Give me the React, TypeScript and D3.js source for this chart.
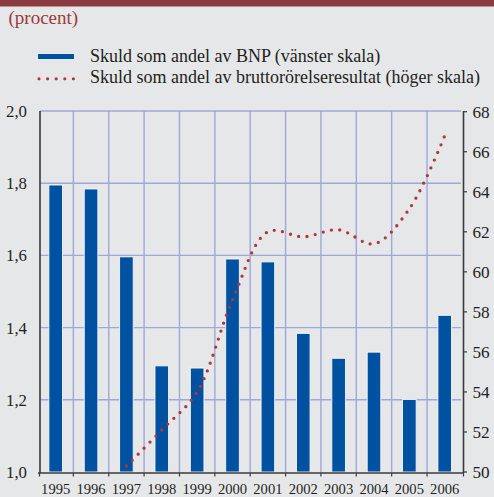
import React from 'react';
import * as d3 from 'd3';

const years = ['1995','1996','1997','1998','1999','2000','2001','2002','2003','2004','2005','2006'];
const debtToGdp = [1.795,1.784,1.596,1.294,1.288,1.590,1.582,1.384,1.315,1.332,1.201,1.434];
const lineYears = ['1997','1998','1999','2000','2001','2002','2003','2004','2005','2006'];
const debtToGos = [50.3,52.1,54.0,58.6,62.0,61.75,62.1,61.4,63.15,66.8];
const leftTicks = [1.0,1.2,1.4,1.6,1.8,2.0];
const rightTicks = [50,52,54,56,58,60,62,64,66,68];
const legendLabels = ['Skuld som andel av BNP (vänster skala)','Skuld som andel av bruttorörelseresultat (höger skala)'];
const unitLabel = '(procent)';

const W = 494, H = 497;
const FONT = 'Liberation Serif';
const BLUE = '#0051a0';
const RED = '#b0363a';
const GRID = '#9ea8d8';
const AXIS = '#3a3a3a';

export default function App() {
  const left = 38, right = 462.4, top = 111, bottom = 472;
  const x = d3.scaleBand<string>().domain(years).range([left, right]).padding(0);
  const step = x.step();
  const bw = 13.6;
  const yL = d3.scaleLinear().domain([1, 2]).range([bottom, top]);
  const yR = d3.scaleLinear().domain([50, 68]).range([bottom, top + 0.7]);
  const fmt = (v: number) => d3.format('.1f')(v).replace('.', ',');
  const line = d3.line<number>()
    .x((_, i) => (x(lineYears[i]) as number) + step / 2)
    .y(d => yR(d))
    .curve(d3.curveCatmullRom.alpha(0.5));
  const axL = 40, axR = 463.5;
  const ts = { fontFamily: FONT };

  return (
    <svg width={W} height={H} style={{ position: 'fixed', left: 0, top: 0, display: 'block' }}>
      <rect x={0} y={0} width={W} height={H} fill="#e6e7e9" />
      <rect x={0} y={0} width={W} height={6.5} fill="#8b3a3f" />
      <text x={8.5} y={24} fontSize={19} fill="#9a3b40" style={ts}>{unitLabel}</text>

      {/* legend */}
      <rect x={37.5} y={53.5} width={37} height={6} fill={BLUE} stroke="#ffffff" strokeWidth={0.8} />
      <text x={90} y={61.8} fontSize={18} fill="#231f20" style={ts}>{legendLabels[0]}</text>
      <line x1={39} x2={74} y1={78.8} y2={78.8} stroke={RED} strokeWidth={3.2} strokeLinecap="round" strokeDasharray="0 8.6" />
      <text x={90} y={82.8} fontSize={18} fill="#231f20" style={ts}>{legendLabels[1]}</text>

      {/* grid */}
      {leftTicks.filter(t => t > 1).map(t => (
        <line key={'h' + t} x1={axL} x2={461} y1={yL(t)} y2={yL(t)} stroke={GRID} strokeWidth={1.4} />
      ))}
      {years.slice(1).map(yr => (
        <line key={'v' + yr} x1={x(yr) as number} x2={x(yr) as number} y1={top} y2={bottom} stroke={GRID} strokeWidth={1.4} />
      ))}

      {/* bars */}
      {years.map((yr, i) => {
        const cx = (x(yr) as number) + step / 2;
        const y0 = yL(debtToGdp[i]);
        return (
          <rect key={'b' + yr} x={cx - bw / 2} y={y0} width={bw} height={bottom - y0}
            fill={BLUE} stroke="#f4f6fb" strokeWidth={0.9} />
        );
      })}

      {/* dotted line */}
      <path d={line(debtToGos) || ''} fill="none" stroke={RED} strokeWidth={3.3}
        strokeLinecap="round" strokeDasharray="0 8.4" />

      {/* axes */}
      <line x1={axL} x2={axL} y1={top} y2={bottom + 1} stroke={AXIS} strokeWidth={1.6} />
      <line x1={axR} x2={axR} y1={top} y2={bottom + 1} stroke={AXIS} strokeWidth={1.6} />
      <line x1={left} x2={axR} y1={bottom + 1} y2={bottom + 1} stroke={AXIS} strokeWidth={1.6} />
      {years.map((yr, i) => (
        <line key={'xt' + yr} x1={(x(yr) as number) + (i === 0 ? 1.5 : 0)} x2={(x(yr) as number) + (i === 0 ? 1.5 : 0)}
          y1={bottom + 1} y2={bottom + 4.5} stroke={AXIS} strokeWidth={1.2} />
      ))}
      <line x1={axR} x2={axR} y1={bottom + 1} y2={bottom + 4.5} stroke={AXIS} strokeWidth={1.2} />
      {rightTicks.map(t => (
        <line key={'rt' + t} x1={axR} x2={axR + 3.5} y1={yR(t)} y2={yR(t)} stroke={AXIS} strokeWidth={1.2} />
      ))}

      {/* labels */}
      {leftTicks.map(t => (
        <text key={'ll' + t} x={27} y={yL(t) + 6} fontSize={16.8} textAnchor="end" fill="#231f20" style={ts}>{fmt(t)}</text>
      ))}
      {rightTicks.map(t => (
        <text key={'rl' + t} x={472.5} y={yR(t) + 6} fontSize={17.2} fill="#231f20" style={ts}>{t}</text>
      ))}
      {years.map(yr => (
        <text key={'xl' + yr} x={(x(yr) as number) + step / 2} y={493.5} fontSize={14.6} textAnchor="middle" fill="#231f20" style={ts}>{yr}</text>
      ))}
    </svg>
  );
}
